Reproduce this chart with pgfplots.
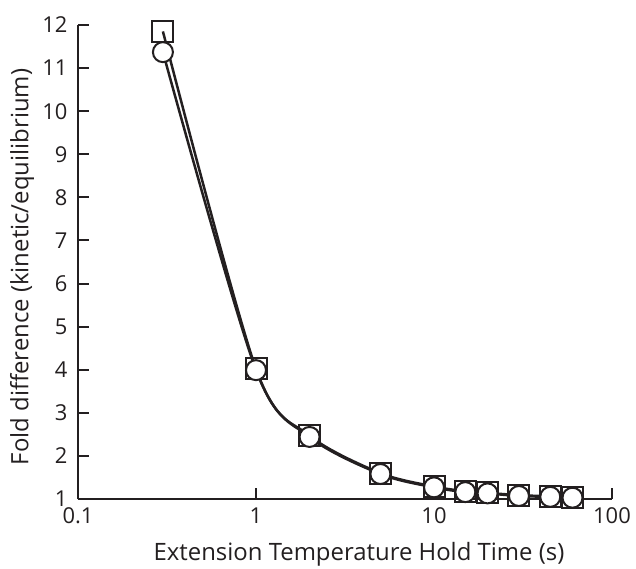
\documentclass[border=0pt]{standalone}
\usepackage{pgfplots}
\pgfplotsset{compat=1.18}
\usepackage{fontspec}
\setmainfont{Open Sans}
\definecolor{ink}{HTML}{231F20}
\begin{document}
\begin{tikzpicture}[x=1bp,y=1bp]
\begin{axis}[
  at={(0,0)}, anchor=south west,
  scale only axis,
  width=534bp, height=474bp,
  xmode=log, xmin=0.1, xmax=100, ymin=1, ymax=12,
  axis lines=left,
  axis line style={-, line width=2bp, ink},
  every outer x axis line/.append style={-},
  every outer y axis line/.append style={-},
  clip=false,
  tick align=inside,
  major tick length=11bp,
  every tick/.style={ink, line width=2bp},
  xtick={0.1,1,10,100},
  xticklabels={0.1,1,10,100},
  xminorticks=false,
  ytick={1,2,...,12},
  /pgf/number format/assume math mode=true,
  tick label style={font=\fontsize{22}{26}\selectfont, text=ink},
  label style={font=\fontsize{24}{28}\selectfont, text=ink},
  xticklabel style={anchor=north, yshift=-5bp},
  yticklabel style={anchor=east, xshift=-7bp},
  xlabel={Extension Temperature Hold Time (s)},
  ylabel={Fold difference (kinetic/equilibrium)},
  xlabel style={at={(axis description cs:0.5,0)}, anchor=center, yshift=-55bp, xshift=14bp},
  ylabel style={at={(axis description cs:0,0.5)}, anchor=center, yshift=56bp, xshift=-5bp},
]
\addplot[ink, line width=2.5bp, smooth, tension=0.5, mark=square, mark size=10.5bp,
  mark options={fill=white, line width=2bp, solid}]
  coordinates {(0.3,11.85) (1,4.02) (2,2.47) (5,1.6) (10,1.29) (15,1.18) (20,1.14) (30,1.09) (45,1.06) (60,1.04)};
\addplot[ink, line width=2.5bp, smooth, tension=0.5, mark=*, mark size=10bp,
  mark options={fill=white, line width=2bp, solid}]
  coordinates {(0.3,11.37) (1,3.99) (2,2.44) (5,1.58) (10,1.27) (15,1.16) (20,1.13) (30,1.07) (45,1.05) (60,1.03)};
\end{axis}
\pgfresetboundingbox
\path[use as bounding box] (-78,-70) rectangle (558,499);
\end{tikzpicture}
\end{document}
